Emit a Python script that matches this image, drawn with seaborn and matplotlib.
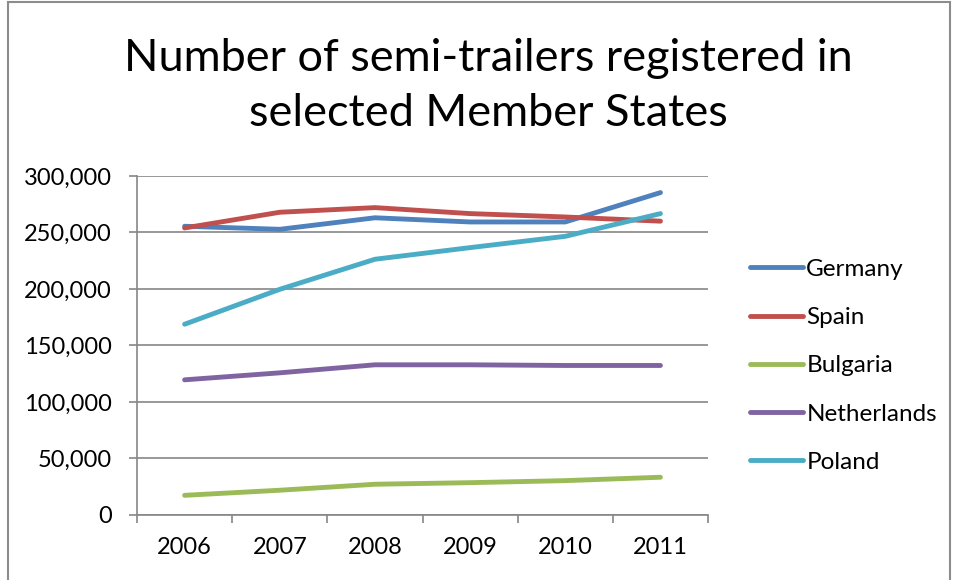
import pandas as pd
import seaborn as sns
import matplotlib.pyplot as plt
from matplotlib.patches import Rectangle
from matplotlib.ticker import FixedLocator, FuncFormatter

# ------------------------------------------------------------------ #
years = ["2006", "2007", "2008", "2009", "2010", "2011"]
countries = ["Germany", "Spain", "Bulgaria", "Netherlands", "Poland"]
germany = [255500, 252800, 263000, 259300, 259300, 285300]
spain = [254000, 267900, 272000, 266700, 263700, 260000]
bulgaria = [17400, 21900, 27200, 28600, 30400, 33400]
netherlands = [119600, 125800, 132900, 132900, 132300, 132300]
poland = [168800, 199700, 226300, 236600, 246600, 266700]
colors = ["#4F81BD", "#C0504D", "#9BBB59", "#8064A2", "#4BACC6"]
y_ticks = [0, 50000, 100000, 150000, 200000, 250000, 300000]
title = "Number of semi-trailers registered in\nselected Member States"
# ------------------------------------------------------------------ #

series = [germany, spain, bulgaria, netherlands, poland]
df = pd.DataFrame(
    [(c, i, v) for c, vals in zip(countries, series) for i, v in enumerate(vals)],
    columns=["country", "pos", "value"],
)

sns.set_theme(style="white")
plt.rcParams["font.family"] = ["Lato", "DejaVu Sans"]
plt.rcParams["text.color"] = "black"

fig = plt.figure(figsize=(9.55, 5.8), dpi=100)
ax = fig.add_axes([0.1435, 0.1121, 0.7414 - 0.1435, 0.6966 - 0.1121])

sns.lineplot(
    data=df, x="pos", y="value", hue="country", hue_order=countries,
    palette=colors, linewidth=3.5, ax=ax, solid_capstyle="round",
)

grid_c = "#868686"
ax.set_xlim(-0.5, len(years) - 0.5)
ax.set_ylim(y_ticks[0], y_ticks[-1])
ax.set_xticks(range(len(years)))
ax.set_xticklabels(years)
ax.xaxis.set_minor_locator(FixedLocator([i - 0.5 for i in range(len(years) + 1)]))
ax.tick_params(axis="x", which="major", length=0, pad=16, labelsize=17, labelcolor="black")
ax.tick_params(axis="x", which="minor", length=6, width=1.2, color=grid_c, direction="out", bottom=True)
ax.set_yticks(y_ticks)
ax.yaxis.set_major_formatter(FuncFormatter(lambda v, p: f"{int(v):,}"))
ax.tick_params(axis="y", length=6, width=1.2, color=grid_c, direction="out", left=True,
               pad=12, labelsize=17, labelcolor="black")
ax.grid(axis="y", color=grid_c, linewidth=1.2)
ax.set_axisbelow(True)
for side in ["top", "right"]:
    ax.spines[side].set_visible(False)
for side in ["left", "bottom"]:
    ax.spines[side].set_color(grid_c)
    ax.spines[side].set_linewidth(1.2)
ax.set_xlabel("")
ax.set_ylabel("")

handles, labels = ax.get_legend_handles_labels()
for h in handles:
    h.set_linewidth(3.5)
ax.legend(
    handles, labels, loc="center left", bbox_to_anchor=(1.035, 0.44), frameon=False,
    fontsize=17.5, handlelength=2.2, handletextpad=0.12, labelspacing=1.12,
)

fig.text(0.511, 0.851, title, ha="center", va="center", fontsize=32.5,
         linespacing=1.42, color="black")
fig.patches.append(Rectangle((8 / 955, -0.05), (950 - 8) / 955, 1.05 - 2 / 580,
                             transform=fig.transFigure, fill=False,
                             edgecolor="#8c8c8c", linewidth=1.5))

fig.savefig("out.png", dpi=100)
